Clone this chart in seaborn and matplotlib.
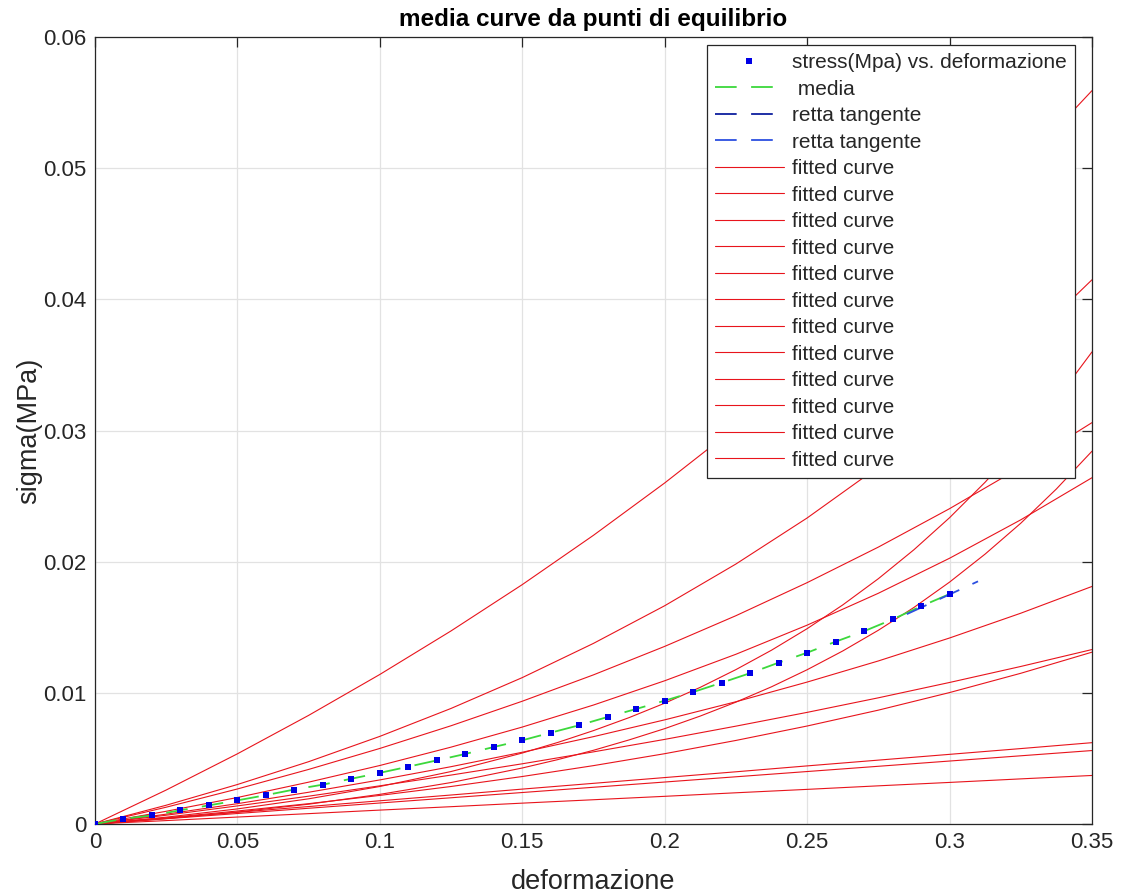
import matplotlib
matplotlib.use("Agg")
import matplotlib.pyplot as plt
import seaborn as sns

# ---------------- data ----------------
strain_pts = [0.00, 0.01, 0.02, 0.03, 0.04, 0.05, 0.06, 0.07, 0.08, 0.09,
              0.10, 0.11, 0.12, 0.13, 0.14, 0.15, 0.16, 0.17, 0.18, 0.19,
              0.20, 0.21, 0.22, 0.23, 0.24, 0.25, 0.26, 0.27, 0.28, 0.29, 0.30]
stress_pts = [0.0, 0.0004, 0.00065, 0.00105, 0.00142, 0.0018, 0.0022, 0.00263, 0.0030, 0.00345,
              0.0039, 0.00437, 0.00485, 0.00534, 0.00587, 0.00638, 0.00696, 0.00753, 0.00816, 0.00877,
              0.0094, 0.01006, 0.01077, 0.0115, 0.0123, 0.01306, 0.0139, 0.0147, 0.0156, 0.0166, 0.01753]

media_x = strain_pts
media_y = stress_pts

tang1_x = [0.0, 0.02]
tang1_y = [0.0, 0.0007]
tang2_x = [0.285, 0.31]
tang2_y = [0.0160, 0.0185]

fit_x = [0.0, 0.025, 0.05, 0.075, 0.10, 0.125, 0.15, 0.175, 0.20, 0.225, 0.25, 0.275, 0.30, 0.325, 0.35]
fit_1 = [0.0, 0.00259, 0.00535, 0.00828, 0.01140, 0.01472, 0.01825, 0.02201, 0.02600, 0.03025, 0.03477, 0.03958, 0.04469, 0.05013, 0.05591]
fit_2 = [0.0, 0.00143, 0.00301, 0.00475, 0.00668, 0.00881, 0.01116, 0.01377, 0.01664, 0.01982, 0.02333, 0.02722, 0.03151, 0.03625, 0.04149]
fit_4 = [0.0, 0.00128, 0.00267, 0.00416, 0.00576, 0.00749, 0.00936, 0.01137, 0.01354, 0.01588, 0.01840, 0.02111, 0.02404, 0.02720, 0.03060]
fit_6 = [0.0, 0.00097, 0.00202, 0.00319, 0.00446, 0.00586, 0.00739, 0.00907, 0.01092, 0.01294, 0.01516, 0.01759, 0.02026, 0.02319, 0.02640]
fit_7 = [0.0, 0.00075, 0.00155, 0.00242, 0.00336, 0.00437, 0.00547, 0.00666, 0.00794, 0.00932, 0.01082, 0.01243, 0.01418, 0.01607, 0.01811]
fit_8 = [0.0, 0.00067, 0.00138, 0.00212, 0.00291, 0.00373, 0.00459, 0.00550, 0.00645, 0.00746, 0.00851, 0.00962, 0.01079, 0.01201, 0.01330]
fit_9 = [0.0, 0.00047, 0.00099, 0.00155, 0.00218, 0.00286, 0.00362, 0.00445, 0.00536, 0.00637, 0.00747, 0.00868, 0.01002, 0.01149, 0.01310]
fit_10 = [0.0, 0.00044, 0.00089, 0.00133, 0.00177, 0.00221, 0.00266, 0.00310, 0.00354, 0.00398, 0.00443, 0.00487, 0.00531, 0.00575, 0.00620]
fit_11 = [0.0, 0.00040, 0.00080, 0.00120, 0.00160, 0.00200, 0.00240, 0.00280, 0.00320, 0.00360, 0.00400, 0.00440, 0.00480, 0.00520, 0.00560]
fit_12 = [0.0, 0.00026, 0.00053, 0.00079, 0.00106, 0.00132, 0.00159, 0.00185, 0.00211, 0.00238, 0.00264, 0.00291, 0.00317, 0.00344, 0.00370]

# the two steep curves are read on a denser strain grid
fit_x_dense = [0.0, 0.025, 0.05, 0.075, 0.10, 0.125, 0.15, 0.1625, 0.175, 0.1875, 0.20, 0.2125,
               0.225, 0.2375, 0.25, 0.2625, 0.275, 0.2875, 0.30, 0.3125, 0.325, 0.3375, 0.35]
fit_3 = [0.0, 0.00052, 0.00115, 0.00192, 0.00286, 0.00400, 0.00541, 0.00622, 0.00712, 0.00811, 0.00921, 0.01042,
         0.01177, 0.01325, 0.01489, 0.01670, 0.01870, 0.02091, 0.02335, 0.02606, 0.02904, 0.03234, 0.03599]
fit_5 = [0.0, 0.00041, 0.00091, 0.00151, 0.00226, 0.00316, 0.00427, 0.00491, 0.00562, 0.00641, 0.00727, 0.00823,
         0.00929, 0.01046, 0.01176, 0.01319, 0.01477, 0.01651, 0.01844, 0.02058, 0.02293, 0.02554, 0.02842]

fitted_curves = [(fit_x, fit_1), (fit_x, fit_2), (fit_x_dense, fit_3), (fit_x, fit_4),
                 (fit_x_dense, fit_5), (fit_x, fit_6), (fit_x, fit_7), (fit_x, fit_8),
                 (fit_x, fit_9), (fit_x, fit_10), (fit_x, fit_11), (fit_x, fit_12)]

x_ticks = [0, 0.05, 0.1, 0.15, 0.2, 0.25, 0.3, 0.35]
x_tick_labels = ["0", "0.05", "0.1", "0.15", "0.2", "0.25", "0.3", "0.35"]
y_ticks = [0, 0.01, 0.02, 0.03, 0.04, 0.05, 0.06]
y_tick_labels = ["0", "0.01", "0.02", "0.03", "0.04", "0.05", "0.06"]

# ---------------- styling ----------------
sns.set_theme(style="white")
plt.rcParams['font.family'] = ['Liberation Sans', 'DejaVu Sans']

AX_COL = '#262626'
GREEN = '#3cd83c'
BLUE_PTS = '#0000e6'
NAVY = '#0d1f9e'
BLUE2 = '#2c4fe0'
RED = '#e8141c'

fig, ax = plt.subplots(figsize=(11.21, 8.94), dpi=100)
fig.subplots_adjust(left=0.0847, right=0.9741, bottom=0.0783, top=0.9586)

sns.lineplot(x=strain_pts, y=stress_pts, ax=ax, color=BLUE_PTS, marker='s',
             markersize=4.3, markeredgewidth=0, linestyle='none',
             label='stress(Mpa) vs. deformazione', zorder=4)
sns.lineplot(x=media_x, y=media_y, ax=ax, color=GREEN, lw=1.3,
             linestyle=(0, (12, 8)), label=' media', zorder=3)
sns.lineplot(x=tang1_x, y=tang1_y, ax=ax, color=NAVY, lw=1.3,
             linestyle=(0, (12, 8)), label='retta tangente', zorder=2)
sns.lineplot(x=tang2_x, y=tang2_y, ax=ax, color=BLUE2, lw=1.3,
             linestyle=(0, (12, 8)), label='retta tangente', zorder=3)
for cx, cy in fitted_curves:
    sns.lineplot(x=cx, y=cy, ax=ax, color=RED, lw=0.8,
                 label='fitted curve', zorder=2.5)

ax.set_xlim(0, 0.35)
ax.set_ylim(0, 0.06)
ax.set_xticks(x_ticks)
ax.set_xticklabels(x_tick_labels)
ax.set_yticks(y_ticks)
ax.set_yticklabels(y_tick_labels)
ax.grid(True, color='#e2e2e2', lw=0.9)
ax.set_axisbelow(True)
for sp in ax.spines.values():
    sp.set_color(AX_COL)
    sp.set_linewidth(0.9)
    sp.set_visible(True)
ax.tick_params(direction='in', length=7, width=0.9, top=True, right=True,
               labelsize=16, colors=AX_COL, pad=6)

ax.set_xlabel('deformazione', fontsize=19.5, color=AX_COL, labelpad=11)
ax.set_ylabel('sigma(MPa)', fontsize=19.5, color=AX_COL, labelpad=1)
ax.set_title('media curve da punti di equilibrio', fontsize=17.5,
             fontweight='bold', color='black', pad=8)

leg = ax.legend(loc='upper right', bbox_to_anchor=(0.983, 0.99), borderaxespad=0,
                fontsize=15, frameon=True, fancybox=False, edgecolor=AX_COL,
                framealpha=1, handlelength=3.3, handletextpad=0.4,
                labelspacing=0.36, borderpad=0.4, numpoints=1)
leg.get_frame().set_linewidth(0.9)
for t in leg.get_texts():
    t.set_color(AX_COL)

fig.savefig('out.png', dpi=100)
